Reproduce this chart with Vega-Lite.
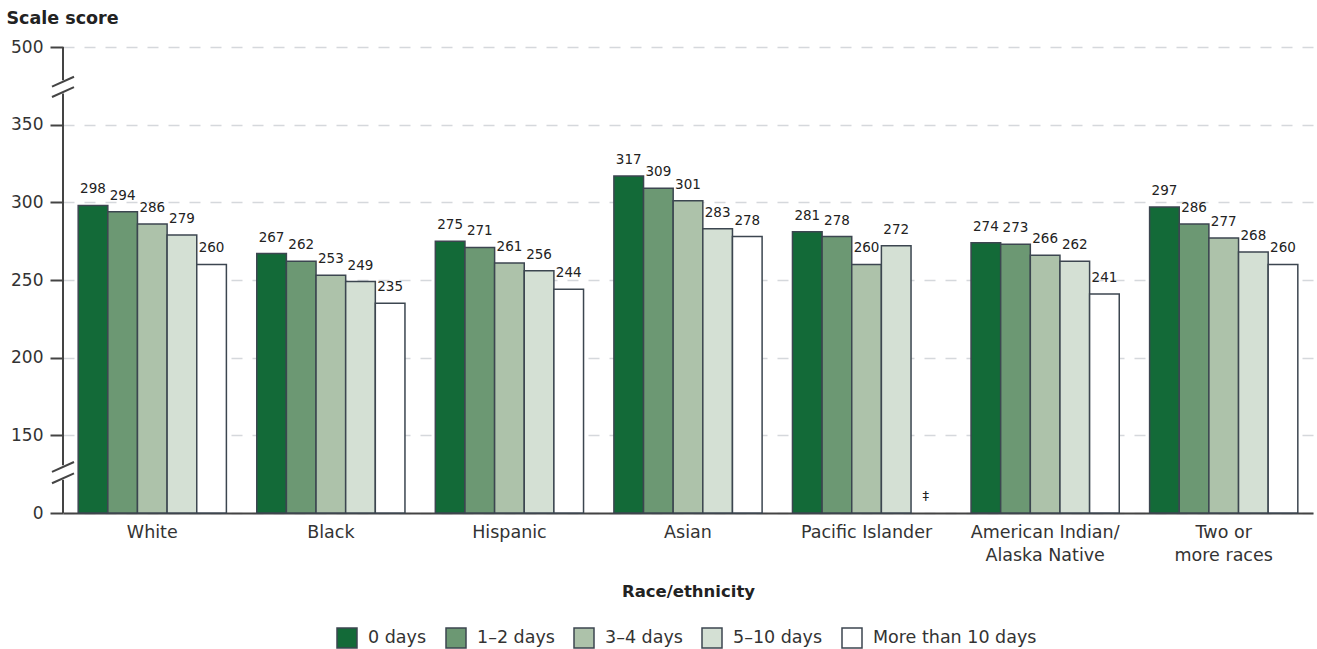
{
  "$schema": "https://vega.github.io/schema/vega-lite/v6.json",
  "width": 1250,
  "height": 466,
  "autosize": {"type": "none"},
  "padding": {"left": 63, "top": 47, "right": 4, "bottom": 136},
  "config": {
    "view": {"stroke": null},
    "font": "DejaVu Sans",
    "axis": {"labelFont": "DejaVu Sans", "titleFont": "DejaVu Sans"},
    "legend": {"labelFont": "DejaVu Sans"}
  },
  "datasets": {
    "scores": [
      {"race": "White", "days": "0 days", "value": 298},
      {"race": "White", "days": "1–2 days", "value": 294},
      {"race": "White", "days": "3–4 days", "value": 286},
      {"race": "White", "days": "5–10 days", "value": 279},
      {"race": "White", "days": "More than 10 days", "value": 260},
      {"race": "Black", "days": "0 days", "value": 267},
      {"race": "Black", "days": "1–2 days", "value": 262},
      {"race": "Black", "days": "3–4 days", "value": 253},
      {"race": "Black", "days": "5–10 days", "value": 249},
      {"race": "Black", "days": "More than 10 days", "value": 235},
      {"race": "Hispanic", "days": "0 days", "value": 275},
      {"race": "Hispanic", "days": "1–2 days", "value": 271},
      {"race": "Hispanic", "days": "3–4 days", "value": 261},
      {"race": "Hispanic", "days": "5–10 days", "value": 256},
      {"race": "Hispanic", "days": "More than 10 days", "value": 244},
      {"race": "Asian", "days": "0 days", "value": 317},
      {"race": "Asian", "days": "1–2 days", "value": 309},
      {"race": "Asian", "days": "3–4 days", "value": 301},
      {"race": "Asian", "days": "5–10 days", "value": 283},
      {"race": "Asian", "days": "More than 10 days", "value": 278},
      {"race": "Pacific Islander", "days": "0 days", "value": 281},
      {"race": "Pacific Islander", "days": "1–2 days", "value": 278},
      {"race": "Pacific Islander", "days": "3–4 days", "value": 260},
      {"race": "Pacific Islander", "days": "5–10 days", "value": 272},
      {"race": "Pacific Islander", "days": "More than 10 days", "value": null},
      {"race": "American Indian/Alaska Native", "days": "0 days", "value": 274},
      {"race": "American Indian/Alaska Native", "days": "1–2 days", "value": 273},
      {"race": "American Indian/Alaska Native", "days": "3–4 days", "value": 266},
      {"race": "American Indian/Alaska Native", "days": "5–10 days", "value": 262},
      {"race": "American Indian/Alaska Native", "days": "More than 10 days", "value": 241},
      {"race": "Two or more races", "days": "0 days", "value": 297},
      {"race": "Two or more races", "days": "1–2 days", "value": 286},
      {"race": "Two or more races", "days": "3–4 days", "value": 277},
      {"race": "Two or more races", "days": "5–10 days", "value": 268},
      {"race": "Two or more races", "days": "More than 10 days", "value": 260}
    ],
    "segments": [
      {"from": 0, "to": 64},
      {"from": 92, "to": 410},
      {"from": 436, "to": 500}
    ],
    "breaks": [
      {"at": 67}, {"at": 89}, {"at": 413}, {"at": 433}
    ]
  },
  "layer": [
    {
      "data": {"name": "scores"},
      "mark": {"type": "bar", "stroke": "#3c4650", "strokeWidth": 1.5},
      "encoding": {
        "x": {
          "field": "race", "type": "nominal", "sort": null,
          "scale": {"paddingInner": 0.17, "paddingOuter": 0.085},
          "axis": {
            "title": "Race/ethnicity",
            "titleFontSize": 16.5, "titleFontWeight": "bold", "titleColor": "#222",
            "titlePadding": 20,
            "labelFontSize": 17.5, "labelColor": "#333", "labelPadding": 10,
            "labelAngle": 0, "labelLineHeight": 23,
            "labelExpr": "datum.label == 'American Indian/Alaska Native' ? ['American Indian/', 'Alaska Native'] : datum.label == 'Two or more races' ? ['Two or', 'more races'] : datum.label",
            "ticks": false,
            "domainColor": "#444", "domainWidth": 2
          }
        },
        "xOffset": {
          "field": "days", "type": "nominal",
          "sort": ["0 days", "1–2 days", "3–4 days", "5–10 days", "More than 10 days"],
          "scale": {"paddingInner": 0, "paddingOuter": 0}
        },
        "y": {
          "field": "value", "type": "quantitative",
          "scale": {"domain": [0, 150, 350, 500], "range": [466, 388.33, 77.67, 0], "nice": false, "zero": false},
          "axis": {
            "title": "Scale score",
            "titleAngle": 0, "titleAlign": "left", "titleBaseline": "alphabetic",
            "titleX": -57, "titleY": -24,
            "titleFontSize": 17.5, "titleFontWeight": "bold", "titleColor": "#222",
            "values": [0, 150, 200, 250, 300, 350, 500],
            "labelFontSize": 17, "labelColor": "#333", "labelPadding": 7,
            "tickSize": 13, "tickColor": "#444", "tickWidth": 2,
            "domain": false,
            "grid": true, "gridColor": "#d5d8dc", "gridDash": [11, 10], "gridWidth": 1.5
          }
        },
        "fill": {
          "field": "days", "type": "nominal",
          "sort": ["0 days", "1–2 days", "3–4 days", "5–10 days", "More than 10 days"],
          "scale": {"range": ["#136a38", "#6c9873", "#adc2aa", "#d4e0d4", "#ffffff"]},
          "legend": {
            "title": null, "orient": "none", "direction": "horizontal",
            "legendX": 273, "legendY": 580,
            "symbolType": "square", "symbolSize": 400,
            "symbolStrokeColor": "#3c4650", "symbolStrokeWidth": 1.5,
            "symbolOpacity": 1,
            "labelFontSize": 17.5, "labelColor": "#333", "labelOffset": 10,
            "labelLimit": 400,
            "columnPadding": 16
          }
        }
      }
    },
    {
      "data": {"name": "scores"},
      "transform": [{"filter": "datum.value != null"}],
      "mark": {"type": "text", "baseline": "bottom", "dy": -9, "fontSize": 13.5, "color": "#222"},
      "encoding": {
        "x": {"field": "race", "type": "nominal", "sort": null},
        "xOffset": {"field": "days", "type": "nominal", "sort": ["0 days", "1–2 days", "3–4 days", "5–10 days", "More than 10 days"]},
        "y": {"field": "value", "type": "quantitative"},
        "text": {"field": "value", "type": "quantitative"}
      }
    },
    {
      "data": {"name": "scores"},
      "transform": [{"filter": "datum.value == null"}],
      "mark": {"type": "text", "baseline": "bottom", "dy": -10, "fontSize": 13, "color": "#222", "text": "‡"},
      "encoding": {
        "x": {"field": "race", "type": "nominal", "sort": null},
        "xOffset": {"field": "days", "type": "nominal", "sort": ["0 days", "1–2 days", "3–4 days", "5–10 days", "More than 10 days"]},
        "y": {"datum": 0, "type": "quantitative"}
      }
    },
    {
      "data": {"name": "segments"},
      "mark": {"type": "rule", "color": "#444", "strokeWidth": 2},
      "encoding": {
        "x": {"value": 0},
        "y": {"field": "from", "type": "quantitative"},
        "y2": {"field": "to"}
      }
    },
    {
      "data": {"name": "breaks"},
      "mark": {"type": "point", "shape": "M-1,0.45L1,-0.45", "filled": false, "stroke": "#444", "strokeWidth": 2, "size": 484, "opacity": 1},
      "encoding": {
        "x": {"value": 0},
        "y": {"field": "at", "type": "quantitative"}
      }
    }
  ]
}
